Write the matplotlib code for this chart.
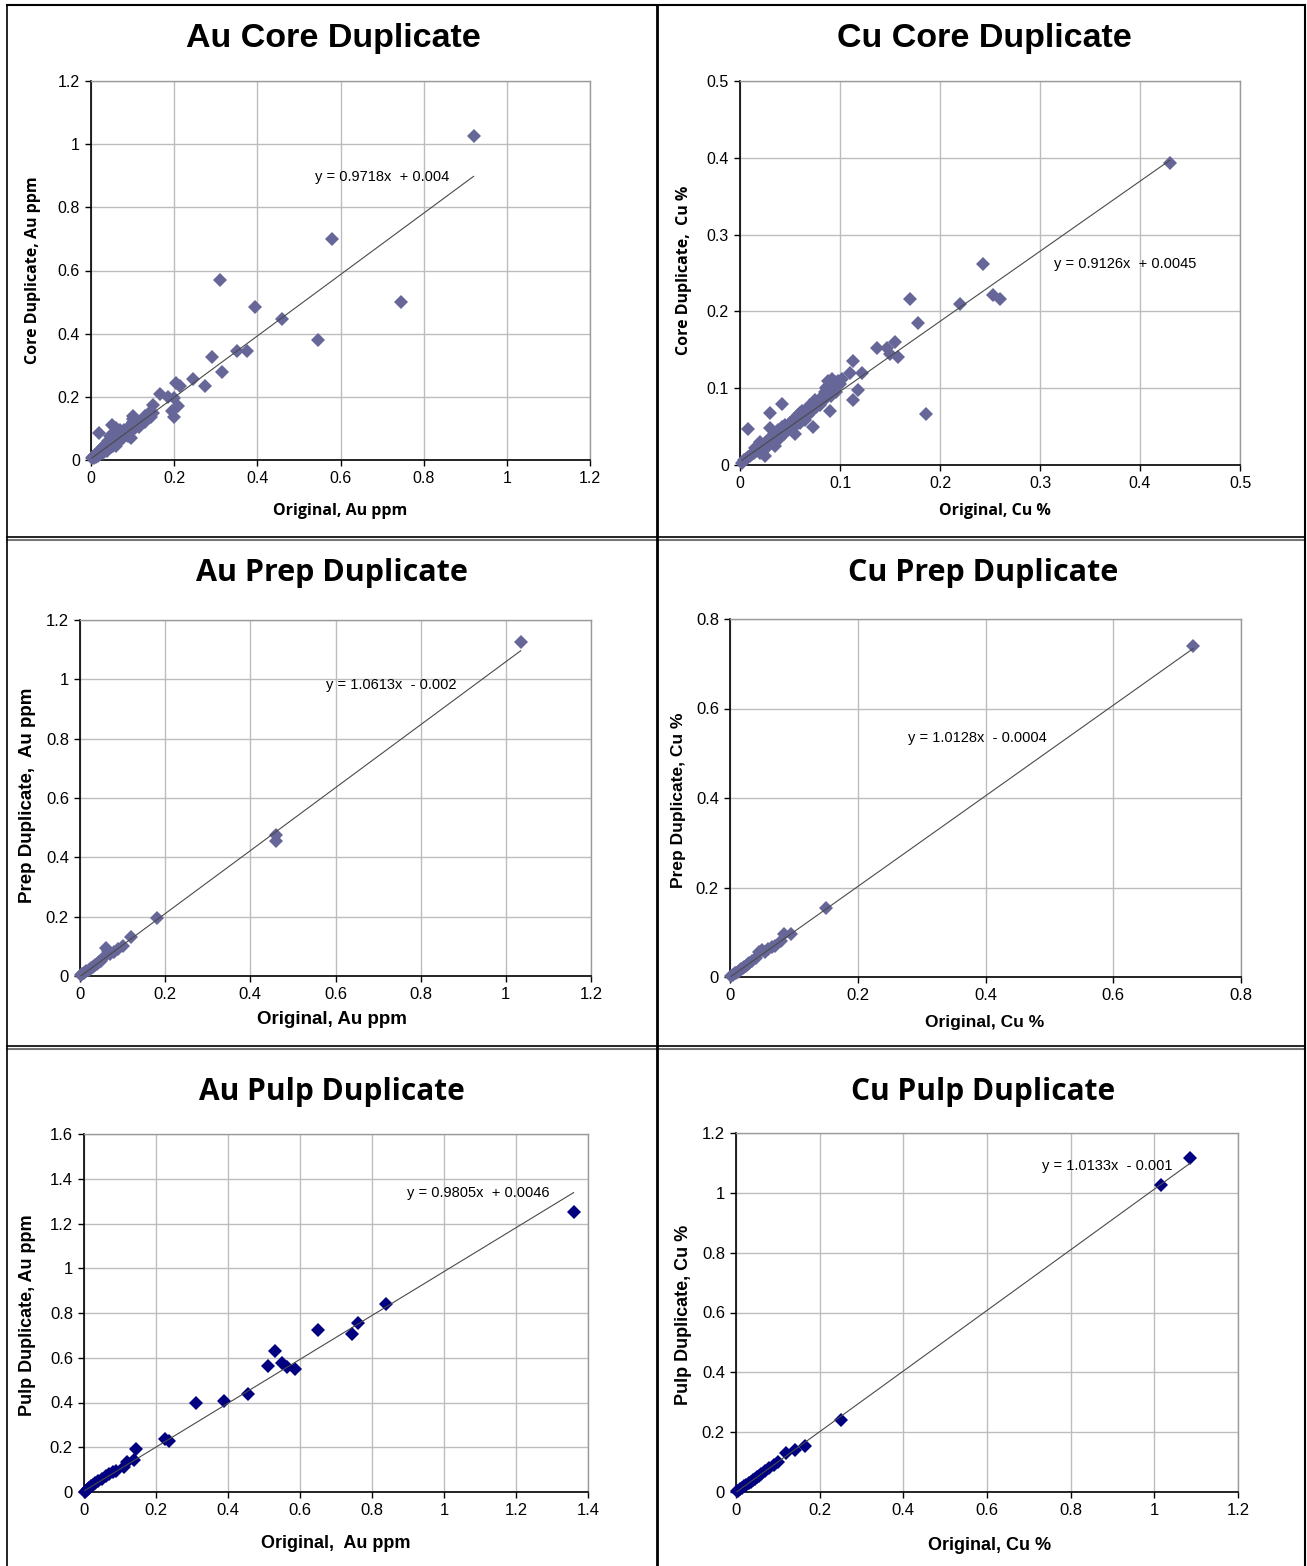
import matplotlib
matplotlib.use("Agg")
import matplotlib.pyplot as plt
from matplotlib.lines import Line2D
from matplotlib import font_manager as fm

names = {f.name for f in fm.fontManager.ttflist}
NARROW = [n for n in ["Liberation Sans Narrow", "Liberation Sans", "DejaVu Sans"] if n in names] or ["DejaVu Sans"]
SANS = [n for n in ["Liberation Sans", "DejaVu Sans"] if n in names]
CAL = [n for n in ["Open Sans", "Lato", "DejaVu Sans"] if n in names]

# ---------------- data ----------------
au_core_x = [0.92, 0.58, 0.31, 0.745, 0.395, 0.46, 0.545, 0.35, 0.375, 0.29, 0.315, 0.275, 0.245,
             0.205, 0.215, 0.20, 0.21, 0.195, 0.20, 0.165, 0.185, 0.15, 0.15, 0.13, 0.12, 0.10, 0.10,
             0.095, 0.08, 0.07, 0.06, 0.05, 0.02,
             0.002, 0.004, 0.005, 0.008, 0.01, 0.012, 0.015, 0.018, 0.02, 0.022, 0.025, 0.028, 0.03,
             0.032, 0.035, 0.038, 0.04, 0.042, 0.045, 0.048, 0.05, 0.052, 0.055, 0.058, 0.06, 0.062,
             0.065, 0.068, 0.07, 0.072, 0.075, 0.078, 0.08, 0.085, 0.088, 0.09, 0.095, 0.10, 0.105,
             0.11, 0.115, 0.12, 0.125, 0.13, 0.14, 0.145, 0.06, 0.07, 0.09, 0.045, 0.035, 0.11]
au_core_y = [1.025, 0.70, 0.57, 0.50, 0.485, 0.445, 0.38, 0.345, 0.345, 0.325, 0.28, 0.235, 0.255,
             0.245, 0.235, 0.195, 0.17, 0.155, 0.135, 0.21, 0.20, 0.175, 0.15, 0.14, 0.12, 0.14, 0.12,
             0.07, 0.09, 0.08, 0.10, 0.11, 0.085,
             0.005, 0.01, 0.008, 0.005, 0.015, 0.01, 0.02, 0.012, 0.03, 0.018, 0.035, 0.022, 0.04,
             0.028, 0.05, 0.03, 0.06, 0.035, 0.055, 0.04, 0.07, 0.045, 0.065, 0.05, 0.08, 0.055,
             0.09, 0.06, 0.075, 0.065, 0.085, 0.07, 0.095, 0.08, 0.10, 0.085, 0.11, 0.13, 0.10,
             0.115, 0.105, 0.125, 0.13, 0.12, 0.15, 0.135, 0.045, 0.095, 0.075, 0.075, 0.045, 0.125]

cu_core_x = [0.43, 0.243, 0.253, 0.26, 0.22, 0.17, 0.178, 0.155, 0.137, 0.147, 0.15, 0.158, 0.113,
             0.11, 0.122, 0.118, 0.113, 0.186, 0.09, 0.073, 0.055, 0.03, 0.042, 0.008,
             0.002, 0.004, 0.006, 0.008, 0.01, 0.012, 0.014, 0.016, 0.018, 0.02, 0.022, 0.024,
             0.026, 0.028, 0.03, 0.032, 0.034, 0.036, 0.038, 0.04, 0.042, 0.044, 0.046, 0.048,
             0.05, 0.052, 0.054, 0.056, 0.058, 0.06, 0.062, 0.064, 0.066, 0.068, 0.07, 0.072,
             0.074, 0.076, 0.078, 0.08, 0.082, 0.084, 0.085, 0.086, 0.088, 0.088, 0.09, 0.09,
             0.092, 0.093, 0.095, 0.096, 0.098, 0.10, 0.102, 0.087, 0.091, 0.094, 0.083,
             0.025, 0.035, 0.045, 0.065, 0.02, 0.04, 0.06, 0.075, 0.015, 0.03]
cu_core_y = [0.393, 0.262, 0.222, 0.216, 0.21, 0.216, 0.185, 0.16, 0.152, 0.152, 0.145, 0.14, 0.136,
             0.12, 0.12, 0.098, 0.085, 0.067, 0.07, 0.05, 0.04, 0.068, 0.08, 0.047,
             0.003, 0.006, 0.008, 0.01, 0.012, 0.014, 0.016, 0.018, 0.02, 0.015, 0.025, 0.02,
             0.03, 0.025, 0.035, 0.028, 0.04, 0.032, 0.045, 0.035, 0.05, 0.04, 0.048, 0.045,
             0.055, 0.05, 0.06, 0.052, 0.065, 0.055, 0.07, 0.06, 0.072, 0.065, 0.078, 0.07,
             0.08, 0.075, 0.082, 0.078, 0.088, 0.085, 0.095, 0.1, 0.092, 0.11, 0.105, 0.098,
             0.112, 0.1, 0.108, 0.095, 0.11, 0.105, 0.112, 0.102, 0.09, 0.1, 0.09,
             0.012, 0.025, 0.052, 0.058, 0.03, 0.045, 0.068, 0.085, 0.022, 0.048]

au_prep_x = [1.035, 0.46, 0.46, 0.18, 0.12, 0.10, 0.06, 0.065, 0.08, 0.002, 0.005, 0.01, 0.015,
             0.02, 0.025, 0.03, 0.035, 0.04, 0.045, 0.05, 0.055, 0.07, 0.09]
au_prep_y = [1.125, 0.475, 0.455, 0.195, 0.13, 0.10, 0.095, 0.085, 0.08, 0.002, 0.006, 0.01, 0.016,
             0.02, 0.028, 0.032, 0.038, 0.042, 0.048, 0.052, 0.06, 0.075, 0.09]

cu_prep_x = [0.725, 0.15, 0.095, 0.085, 0.08, 0.07, 0.05, 0.045, 0.002, 0.005, 0.008, 0.01, 0.012,
             0.015, 0.018, 0.02, 0.022, 0.025, 0.028, 0.03, 0.035, 0.04, 0.055, 0.06, 0.065]
cu_prep_y = [0.74, 0.155, 0.095, 0.095, 0.08, 0.07, 0.06, 0.055, 0.002, 0.005, 0.008, 0.01, 0.012,
             0.015, 0.018, 0.02, 0.022, 0.025, 0.03, 0.032, 0.036, 0.042, 0.055, 0.062, 0.068]

au_pulp_x = [1.36, 0.84, 0.76, 0.745, 0.65, 0.585, 0.565, 0.55, 0.53, 0.51, 0.455, 0.39, 0.31,
             0.235, 0.225, 0.145, 0.14, 0.12, 0.11, 0.09, 0.08, 0.07, 0.06, 0.05, 0.04, 0.03,
             0.025, 0.02, 0.015, 0.01, 0.005, 0.002]
au_pulp_y = [1.25, 0.84, 0.755, 0.705, 0.725, 0.55, 0.56, 0.575, 0.63, 0.565, 0.44, 0.405, 0.40,
             0.23, 0.235, 0.19, 0.145, 0.135, 0.11, 0.095, 0.09, 0.08, 0.07, 0.06, 0.05, 0.04,
             0.03, 0.025, 0.02, 0.012, 0.006, 0.002]

cu_pulp_x = [1.085, 1.015, 0.25, 0.165, 0.14, 0.12, 0.1, 0.09, 0.08, 0.07, 0.06, 0.055, 0.05,
             0.045, 0.04, 0.035, 0.03, 0.025, 0.02, 0.015, 0.01, 0.005, 0.002]
cu_pulp_y = [1.115, 1.025, 0.24, 0.155, 0.14, 0.13, 0.1, 0.09, 0.08, 0.07, 0.06, 0.055, 0.05,
             0.045, 0.04, 0.035, 0.03, 0.025, 0.02, 0.015, 0.01, 0.005, 0.002]

slopes = [0.9718, 0.9126, 1.0613, 1.0128, 0.9805, 1.0133]
intercepts = [0.004, 0.0045, -0.002, -0.0004, 0.0046, -0.001]
eq_texts = ["y = 0.9718x  + 0.004", "y = 0.9126x  + 0.0045", "y = 1.0613x  - 0.002",
            "y = 1.0128x  - 0.0004", "y = 0.9805x  + 0.0046", "y = 1.0133x  - 0.001"]
eq_pos = [(0.539, 0.895), (0.314, 0.262), (0.578, 0.98), (0.279, 0.534), (0.897, 1.336), (0.731, 1.09)]

titles = ["Au Core Duplicate", "Cu Core Duplicate", "Au Prep Duplicate",
          "Cu Prep Duplicate", "Au Pulp Duplicate", "Cu Pulp Duplicate"]
xlabels = ["Original, Au ppm", "Original, Cu %", "Original, Au ppm",
           "Original, Cu %", "Original,  Au ppm", "Original, Cu %"]
ylabels = ["Core Duplicate, Au ppm", "Core Duplicate,  Cu %", "Prep Duplicate,  Au ppm",
           "Prep Duplicate, Cu %", "Pulp Duplicate, Au ppm", "Pulp Duplicate, Cu %"]
xlims = [1.2, 0.5, 1.2, 0.8, 1.4, 1.2]
ylims = [1.2, 0.5, 1.2, 0.8, 1.6, 1.2]
xsteps = [0.2, 0.1, 0.2, 0.2, 0.2, 0.2]
ysteps = [0.2, 0.1, 0.2, 0.2, 0.2, 0.2]

datasets = [(au_core_x, au_core_y), (cu_core_x, cu_core_y), (au_prep_x, au_prep_y),
            (cu_prep_x, cu_prep_y), (au_pulp_x, au_pulp_y), (cu_pulp_x, cu_pulp_y)]
colors = ["#666699", "#666699", "#666699", "#666699", "#000080", "#000080"]

# ---------------- layout (pixels) ----------------
W, H = 1307, 1566
axes_px = [(91, 590, 81, 460), (740, 1240, 81, 465), (80, 591, 620, 976),
           (730, 1241, 619, 977), (84, 588, 1134, 1492), (736, 1238, 1133, 1492)]
title_px = [(333, 38), (984, 38), (332, 573), (983, 573), (332, 1092), (983, 1092)]
title_font = [SANS, SANS, CAL, CAL, CAL, CAL]
title_fs = [24.5, 24.5, 22, 22, 21.5, 21.5]
xlab_px = [(340, 511), (995, 511), (332, 1020), (985, 1022), (336, 1543), (990, 1545)]
ylab_px = [(33, 270), (684, 270), (28, 795), (679, 800), (28, 1315), (683, 1315)]
tick_fs = [11.5, 11.5, 12, 12, 12, 12]
lab_fs = [11.5, 11.5, 13.5, 12.5, 13, 13]
lab_bold_font = [CAL, CAL, SANS, SANS, SANS, SANS]

fig = plt.figure(figsize=(W / 100, H / 100), dpi=100)

def fx(px):
    return px / W

def fy(py):
    return 1 - py / H

for i in range(6):
    l, r, t, b = axes_px[i]
    ax = fig.add_axes([fx(l), fy(b), fx(r) - fx(l), fy(t) - fy(b)])
    x, y = datasets[i]
    ax.set_xlim(0, xlims[i])
    ax.set_ylim(0, ylims[i])
    nx = int(round(xlims[i] / xsteps[i]))
    ny = int(round(ylims[i] / ysteps[i]))
    xt = [round(k * xsteps[i], 2) for k in range(nx + 1)]
    yt = [round(k * ysteps[i], 2) for k in range(ny + 1)]
    ax.set_xticks(xt)
    ax.set_yticks(yt)
    ax.set_xticklabels([("%g" % v) for v in xt], family=NARROW, fontsize=tick_fs[i])
    ax.set_yticklabels([("%g" % v) for v in yt], family=NARROW, fontsize=tick_fs[i])
    ax.grid(True, color="#bdbdbd", linewidth=1.0)
    ax.set_axisbelow(True)
    for s in ["top", "right"]:
        ax.spines[s].set_color("#9a9a9a")
        ax.spines[s].set_linewidth(1.0)
    for s in ["left", "bottom"]:
        ax.spines[s].set_color("black")
        ax.spines[s].set_linewidth(1.2)
    ax.tick_params(axis="both", direction="out", length=4, width=1, pad=4, colors="black")
    ax.plot(x, y, linestyle="none", marker="D", ms=7.5, color=colors[i],
            markeredgewidth=0, zorder=3, clip_on=False)
    x0, x1 = min(x), max(x)
    ax.plot([x0, x1], [slopes[i] * x0 + intercepts[i], slopes[i] * x1 + intercepts[i]],
            color="#4a4a4a", linewidth=0.8, zorder=4)
    ax.text(eq_pos[i][0], eq_pos[i][1], eq_texts[i], family=NARROW, fontsize=10.5,
            va="center", ha="left", zorder=5)

    fig.text(fx(title_px[i][0]), fy(title_px[i][1]), titles[i], ha="center", va="center",
             family=title_font[i], fontweight="bold", fontsize=title_fs[i])
    fig.text(fx(xlab_px[i][0]), fy(xlab_px[i][1]), xlabels[i], ha="center", va="center",
             family=lab_bold_font[i], fontweight="bold", fontsize=lab_fs[i])
    fig.text(fx(ylab_px[i][0]), fy(ylab_px[i][1]), ylabels[i], ha="center", va="center",
             rotation=90, family=lab_bold_font[i], fontweight="bold", fontsize=lab_fs[i])

# ---------------- panel borders ----------------
def hline(y, x0, x1, lw=1.5, c="black"):
    fig.add_artist(Line2D([fx(x0), fx(x1)], [fy(y), fy(y)], color=c, linewidth=lw))

def vline(x, y0, y1, lw=1.5, c="black"):
    fig.add_artist(Line2D([fx(x), fx(x)], [fy(y0), fy(y1)], color=c, linewidth=lw))

hline(5, 7, 1305)
hline(537, 7, 1305, lw=1.2)
hline(540, 7, 1305, lw=1.5, c="#777777")
hline(1046, 7, 1305, lw=1.2)
hline(1049, 7, 1305, lw=1.5, c="#777777")
vline(7, 5, 1566, lw=1.2)
vline(1305, 5, 1566, lw=1.5)
vline(657, 5, 1566, lw=2.0)

fig.savefig("out.png", dpi=100)
